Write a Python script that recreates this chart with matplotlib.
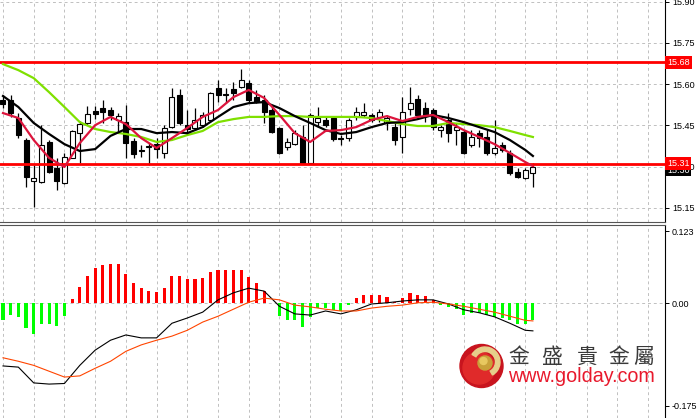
import numpy as np
import matplotlib
matplotlib.use("Agg")
import matplotlib.pyplot as plt
from matplotlib.patches import Circle, Wedge

# candles (OHLC), one per bar
opens = [15.542, 15.542, 15.477, 15.397, 15.248, 15.244, 15.390, 15.295, 15.241, 15.332,
         15.422, 15.459, 15.502, 15.513, 15.506, 15.470, 15.462, 15.393, 15.361, 15.372,
         15.382, 15.350, 15.444, 15.560, 15.451, 15.441, 15.451, 15.470, 15.586, 15.565,
         15.582, 15.590, 15.604, 15.553, 15.542, 15.506, 15.440, 15.372, 15.382, 15.408,
         15.313, 15.462, 15.470, 15.477, 15.404, 15.404, 15.481, 15.488, 15.488, 15.481,
         15.459, 15.444, 15.408, 15.510, 15.546, 15.513, 15.506, 15.433, 15.470, 15.433,
         15.426, 15.379, 15.422, 15.408, 15.350, 15.379, 15.350, 15.280, 15.259, 15.277]
highs = [15.561, 15.561, 15.495, 15.404, 15.306, 15.451, 15.397, 15.332, 15.350, 15.433,
         15.466, 15.521, 15.521, 15.542, 15.517, 15.495, 15.524, 15.404, 15.379, 15.386,
         15.404, 15.451, 15.586, 15.582, 15.506, 15.513, 15.499, 15.571, 15.615, 15.585,
         15.608, 15.655, 15.615, 15.579, 15.561, 15.524, 15.444, 15.404, 15.433, 15.451,
         15.495, 15.517, 15.484, 15.484, 15.415, 15.477, 15.517, 15.532, 15.495, 15.510,
         15.488, 15.459, 15.553, 15.590, 15.561, 15.535, 15.513, 15.451, 15.495, 15.459,
         15.433, 15.433, 15.433, 15.433, 15.470, 15.390, 15.361, 15.295, 15.295, 15.313]
lows = [15.513, 15.481, 15.404, 15.226, 15.153, 15.241, 15.277, 15.215, 15.238, 15.330,
        15.313, 15.451, 15.473, 15.459, 15.470, 15.426, 15.332, 15.332, 15.335, 15.306,
        15.332, 15.332, 15.440, 15.451, 15.426, 15.433, 15.444, 15.462, 15.535, 15.530,
        15.542, 15.586, 15.535, 15.532, 15.459, 15.422, 15.346, 15.361, 15.379, 15.310,
        15.310, 15.444, 15.444, 15.393, 15.379, 15.393, 15.470, 15.481, 15.462, 15.462,
        15.433, 15.379, 15.350, 15.488, 15.481, 15.462, 15.433, 15.408, 15.390, 15.379,
        15.346, 15.372, 15.372, 15.342, 15.342, 15.353, 15.270, 15.259, 15.255, 15.226]
closes = [15.528, 15.495, 15.415, 15.262, 15.259, 15.379, 15.280, 15.248, 15.335, 15.430,
          15.455, 15.491, 15.491, 15.499, 15.488, 15.484, 15.386, 15.346, 15.357, 15.375,
          15.364, 15.440, 15.553, 15.459, 15.437, 15.470, 15.488, 15.568, 15.561, 15.560,
          15.568, 15.615, 15.542, 15.535, 15.499, 15.426, 15.350, 15.390, 15.422, 15.313,
          15.488, 15.477, 15.451, 15.401, 15.401, 15.470, 15.499, 15.499, 15.470, 15.499,
          15.477, 15.397, 15.499, 15.532, 15.488, 15.488, 15.444, 15.444, 15.422, 15.444,
          15.350, 15.408, 15.404, 15.350, 15.368, 15.361, 15.277, 15.262, 15.288, 15.299]

# moving averages at these bars
ma_idx = [0, 2, 4, 6, 8, 10, 12, 14, 16, 18, 20, 22, 24, 26, 28, 30, 32, 34, 36, 38,
          40, 42, 44, 46, 48, 50, 52, 54, 56, 58, 60, 62, 64, 66, 68, 69]
ma_fast = [15.495, 15.477, 15.397, 15.332, 15.299, 15.386, 15.451, 15.481, 15.455, 15.404,
           15.368, 15.404, 15.441, 15.481, 15.506, 15.553, 15.579, 15.550, 15.488, 15.422,
           15.390, 15.430, 15.433, 15.444, 15.470, 15.484, 15.466, 15.481, 15.488, 15.462,
           15.433, 15.408, 15.382, 15.350, 15.317, 15.302]
ma_mid = [15.557, 15.517, 15.459, 15.419, 15.382, 15.357, 15.364, 15.412, 15.437, 15.437,
          15.422, 15.426, 15.422, 15.444, 15.481, 15.517, 15.531, 15.535, 15.513, 15.484,
          15.459, 15.433, 15.419, 15.426, 15.444, 15.459, 15.462, 15.473, 15.488, 15.477,
          15.462, 15.444, 15.426, 15.397, 15.361, 15.339]
ma_slow = [15.673, 15.651, 15.622, 15.571, 15.517, 15.462, 15.437, 15.426, 15.419, 15.408,
           15.390, 15.397, 15.415, 15.430, 15.462, 15.473, 15.481, 15.481, 15.484, 15.484,
           15.481, 15.481, 15.481, 15.481, 15.477, 15.466, 15.455, 15.448, 15.448, 15.459,
           15.455, 15.451, 15.444, 15.430, 15.415, 15.408]

resistance = 15.68
support = 15.31
last_price = 15.30
price_ticks = [15.15, 15.30, 15.45, 15.60, 15.75, 15.90]

# MACD panel
hist = [-0.029, -0.020, -0.023, -0.042, -0.052, -0.035, -0.035, -0.038, -0.021, 0.007,
        0.028, 0.047, 0.060, 0.065, 0.067, 0.067, 0.050, 0.035, 0.026, 0.021,
        0.019, 0.026, 0.047, 0.047, 0.041, 0.041, 0.043, 0.054, 0.057, 0.057,
        0.057, 0.057, 0.045, 0.035, 0.022, 0.000, -0.022, -0.029, -0.029, -0.041,
        -0.023, -0.008, -0.008, -0.012, -0.013, -0.003, 0.009, 0.014, 0.014, 0.014,
        0.011, 0.002, 0.009, 0.017, 0.015, 0.013, 0.006, -0.002, -0.007, -0.009,
        -0.020, -0.017, -0.017, -0.020, -0.023, -0.025, -0.029, -0.035, -0.035, -0.029]
macd_line = [-0.107, -0.109, -0.136, -0.138, -0.137, -0.106, -0.080, -0.063, -0.054, -0.059,
             -0.059, -0.034, -0.025, -0.015, 0.006, 0.018, 0.026, 0.021, -0.005, -0.018,
             -0.020, -0.013, -0.018, -0.011, -0.001, 0.001, 0.004, 0.006, 0.006, -0.001,
             -0.011, -0.016, -0.023, -0.034, -0.046, -0.047]
signal_line = [-0.093, -0.099, -0.106, -0.116, -0.126, -0.124, -0.111, -0.099, -0.082, -0.071,
               -0.063, -0.056, -0.046, -0.032, -0.022, -0.010, 0.002, 0.009, 0.006, -0.003,
               -0.006, -0.010, -0.013, -0.013, -0.008, -0.005, -0.003, 0.001, 0.002, -0.001,
               -0.005, -0.010, -0.015, -0.022, -0.029, -0.030]
macd_ticks = [0.123, 0.0, -0.175]
macd_labels = ['0.123', '0.00', '-0.175']

plt.rcParams['font.family'] = ['Liberation Sans', 'DejaVu Sans']

fig = plt.figure(figsize=(7, 4.18), dpi=100)
ax = fig.add_axes([0, 196 / 418, 665 / 700, 222 / 418])
ax2 = fig.add_axes([0, 0, 665 / 700, 193 / 418])

idx = np.arange(len(opens))
o = np.array(opens); c = np.array(closes)
grid_kw = dict(color='#c0c0c0', linestyle=(0, (3, 3)), linewidth=0.7)

for a in (ax, ax2):
    a.set_xlim(-0.39, 86.2)
    a.set_xticks(range(0, 87, 4))
    a.tick_params(axis='x', bottom=False, labelbottom=False)
    a.yaxis.tick_right()
    a.tick_params(axis='y', labelsize=6.5, length=3, width=0.7, pad=2, colors='black')
    a.spines['left'].set_visible(False)
    a.xaxis.grid(True, **grid_kw)
    a.set_axisbelow(True)

# --- price panel
ax.set_ylim(15.099, 15.906)
ax.set_yticks(price_ticks)
ax.yaxis.grid(True, **grid_kw)
ax.spines['top'].set_visible(False)
ax.spines['bottom'].set_color('#555555')

ax.vlines(idx, lows, highs, color='black', linewidth=0.9, zorder=3)
body_col = ['black' if cc < oo else 'white' for oo, cc in zip(o, c)]
ax.bar(idx, np.maximum(np.abs(c - o), 0.0015), bottom=np.minimum(o, c), width=0.65,
       color=body_col, edgecolor='black', linewidth=0.8, zorder=3.5)

ax.axhline(resistance, color='red', linewidth=2, zorder=4)
ax.axhline(support, color='red', linewidth=2, zorder=4)

ax.plot(ma_idx, ma_slow, color='#7fe000', linewidth=1.6, zorder=5)
ax.plot(ma_idx, ma_mid, color='black', linewidth=1.6, zorder=5)
ax.plot(ma_idx, ma_fast, color='#dc143c', linewidth=1.6, zorder=5)

tr = ax.get_yaxis_transform()
ax.text(1.003, last_price - 0.012, f'{last_price:.2f}', transform=tr, ha='left', va='center',
        fontsize=6.5, color='white', clip_on=False,
        bbox=dict(boxstyle='square,pad=0.22', fc='black', ec='none'))
for lvl in (resistance, support):
    ax.text(1.003, lvl, f'{lvl:.2f}', transform=tr, ha='left', va='center',
            fontsize=6.5, color='white', clip_on=False,
            bbox=dict(boxstyle='square,pad=0.22', fc='red', ec='none'))

# --- MACD panel
ax2.set_ylim(-0.196, 0.134)
ax2.set_yticks(macd_ticks)
ax2.set_yticklabels(macd_labels)
ax2.spines['bottom'].set_visible(False)
ax2.spines['top'].set_color('#555555')
ax2.axhline(0, **grid_kw, zorder=1)
h = np.array(hist)
ax2.bar(idx, h, width=0.4, color=np.where(h >= 0, '#ff0000', '#00ff00'), zorder=3)
ax2.plot(ma_idx, macd_line, color='black', linewidth=0.8, zorder=4)
ax2.plot(ma_idx, signal_line, color='#ff4500', linewidth=0.8, zorder=4)

# --- watermark (pixel coordinates)
ov = fig.add_axes([0, 0, 1, 1])
ov.set_xlim(0, 700)
ov.set_ylim(418, 0)
ov.axis('off')
ov.patch.set_alpha(0)
ov.add_patch(Circle((481.5, 366), 21.5, color='#c8141e'))
ov.add_patch(Circle((479, 368), 16, color='#e02a2a'))
ov.add_patch(Wedge((485, 362), 15, -150, 60, width=4.5, color='#e6cf8a'))
ov.add_patch(Circle((485, 363), 7, color='#c9a13a'))
ov.add_patch(Circle((483.5, 361), 3.5, color='#e8c860'))
for ch, xc in zip('金盛貴金屬', [519, 552, 587, 619, 644]):
    ov.text(xc, 357, ch, fontsize=15, ha='center', va='center', color='#3a3a3a',
            family=['Noto Sans CJK TC', 'DejaVu Sans'])
ov.text(508, 382, 'www.golday.com', fontsize=14.2, ha='left', va='baseline', color='#e8192c')

fig.savefig('out.png', dpi=100)
